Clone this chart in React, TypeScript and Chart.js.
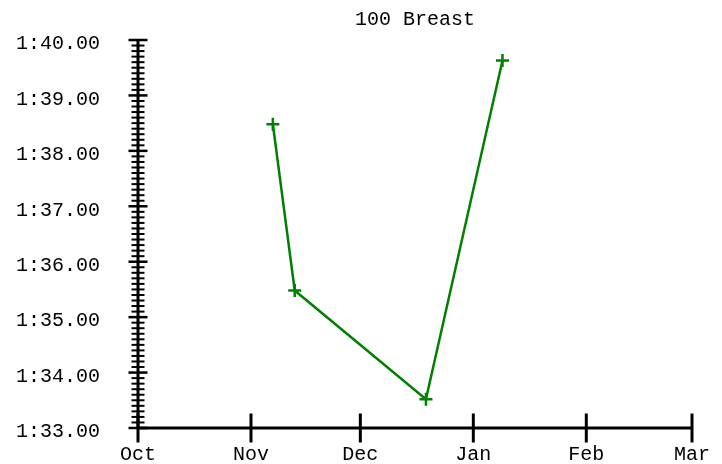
import React, { useEffect, useRef } from "react";
import { Chart, registerables } from "chart.js";

Chart.register(...registerables);

// ---- data ----
const chartTitle = "100 Breast";
const monthLabels = ["Oct", "Nov", "Dec", "Jan", "Feb", "Mar"];
const monthStarts = ["2023-10-01", "2023-11-01", "2023-12-01", "2024-01-01", "2024-02-01", "2024-03-01"];
const swimDates = ["2023-11-07", "2023-11-13", "2023-12-19", "2024-01-09"];
const swimSeconds = [98.48, 95.48, 93.52, 99.63]; // 1:38.48, 1:35.48, 1:33.52, 1:39.63
const yMinSeconds = 93;
const yMaxSeconds = 100;
const yMinorStep = 0.1;

const DAY = 86400000;
const origin = Date.parse(monthStarts[0] + "T00:00:00Z");
const dayOffset = (d: string) => (Date.parse(d + "T00:00:00Z") - origin) / DAY;
const monthDays = monthStarts.map(dayOffset);

const fmtTime = (v: number) => {
  const m = Math.floor(v / 60 + 1e-9);
  const s = v - m * 60;
  return `${m}:${s.toFixed(2).padStart(5, "0")}`;
};

const FONT = "'Liberation Mono', 'Courier New', monospace";

const zeroPad = (s: any) => {
  s.paddingTop = 0;
  s.paddingBottom = 0;
  s.paddingLeft = 0;
  s.paddingRight = 0;
};

const axisPlugin = {
  id: "crossTicks",
  afterDraw(chart: any) {
    const ctx = chart.ctx;
    const { left, right, top, bottom } = chart.chartArea;
    const xs = chart.scales.x;
    const ys = chart.scales.y;
    ctx.save();
    ctx.strokeStyle = "#000";
    ctx.lineCap = "butt";
    ctx.lineWidth = 3;
    ctx.beginPath();
    ctx.moveTo(left, top - 1);
    ctx.lineTo(left, bottom);
    ctx.moveTo(left, bottom);
    ctx.lineTo(right, bottom);
    ctx.stroke();
    ys.ticks.forEach((t: any) => {
      const y = ys.getPixelForValue(t.value);
      const major = Math.abs(t.value - Math.round(t.value)) < 1e-6;
      const half = major ? 9.5 : 6.5;
      ctx.lineWidth = major ? 2.5 : 2;
      ctx.beginPath();
      ctx.moveTo(left - half, y);
      ctx.lineTo(left + half, y);
      ctx.stroke();
    });
    xs.ticks.forEach((t: any) => {
      const x = xs.getPixelForValue(t.value);
      ctx.lineWidth = 3;
      ctx.beginPath();
      ctx.moveTo(x, bottom - 14.5);
      ctx.lineTo(x, bottom + 14.5);
      ctx.stroke();
    });
    ctx.restore();
  },
};

export default function App() {
  const ref = useRef<HTMLCanvasElement | null>(null);
  useEffect(() => {
    if (!ref.current) return;
    const chart = new Chart(ref.current, {
      type: "line",
      data: {
        datasets: [
          {
            data: swimDates.map((d, i) => ({ x: dayOffset(d), y: swimSeconds[i] })),
            borderColor: "#008000",
            backgroundColor: "#008000",
            borderWidth: 2.5,
            pointStyle: "cross",
            pointRadius: 6.5,
            pointBorderWidth: 2.5,
            pointBorderColor: "#008000",
            tension: 0,
            fill: false,
          },
        ],
      },
      options: {
        animation: false,
        responsive: false,
        layout: { padding: { left: 0, right: 30, top: 0, bottom: 0 } },
        plugins: {
          legend: { display: false },
          tooltip: { enabled: false },
          title: {
            display: true,
            text: chartTitle,
            fullSize: false,
            color: "#000",
            font: { family: FONT, size: 20, weight: "normal" },
            padding: { top: 8, bottom: 8 },
          },
        },
        scales: {
          x: {
            type: "linear",
            min: monthDays[0],
            max: monthDays[monthDays.length - 1],
            grid: { display: false, drawTicks: false },
            border: { display: false },
            afterBuildTicks: (s: any) => {
              s.ticks = monthDays.map((v) => ({ value: v }));
            },
            afterFit: (s: any) => {
              s.height = 36;
              zeroPad(s);
            },
            ticks: {
              autoSkip: false,
              maxRotation: 0,
              padding: 15,
              color: "#000",
              font: { family: FONT, size: 20 },
              callback: (_v: any, i: number) => monthLabels[i],
            },
          },
          y: {
            type: "linear",
            min: yMinSeconds,
            max: yMaxSeconds,
            grid: { display: false, drawTicks: false },
            border: { display: false },
            afterBuildTicks: (s: any) => {
              const n = Math.round((yMaxSeconds - yMinSeconds) / yMinorStep);
              const arr = [];
              for (let i = 0; i <= n; i++) arr.push({ value: yMinSeconds + i * yMinorStep });
              s.ticks = arr;
            },
            afterFit: (s: any) => {
              s.width = 138;
              zeroPad(s);
            },
            ticks: {
              autoSkip: false,
              padding: 38,
              labelOffset: 4,
              color: "#000",
              font: { family: FONT, size: 20 },
              callback: (v: any) => {
                const n = Number(v);
                return Math.abs(n - Math.round(n)) < 1e-6 ? fmtTime(Math.round(n)) : "";
              },
            },
          },
        },
      },
      plugins: [axisPlugin],
    } as any);
    return () => chart.destroy();
  }, []);
  return (
    <div style={{ position: "absolute", left: 0, top: 0, width: 722, height: 464, background: "#fff" }}>
      <canvas ref={ref} width={722} height={464} style={{ display: "block" }} />
    </div>
  );
}
